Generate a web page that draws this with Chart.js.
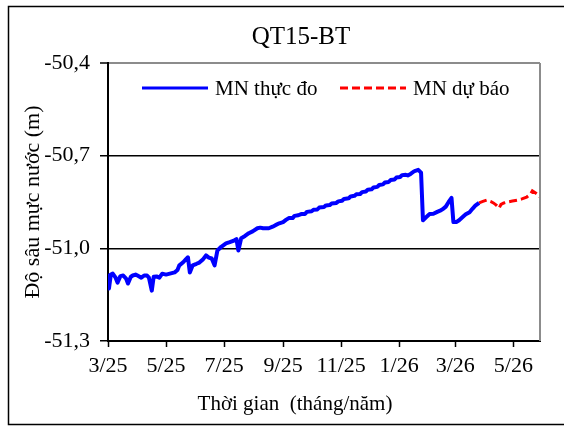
<!DOCTYPE html>
<html>
<head>
<meta charset="utf-8">
<script src="https://cdn.jsdelivr.net/npm/chart.js@4.4.1/dist/chart.umd.min.js"></script>
<style>
  html, body { margin: 0; padding: 0; background: #fff; }
  #wrap { width: 564px; height: 426px; }
</style>
</head>
<body>
<div id="wrap"><canvas id="c" width="564" height="426"></canvas></div>
<script>
/* QT15-BT — mực nước thực đo và dự báo */

// x = số ngày tính từ 01/03/2025
const TICK_DAYS   = [0, 61, 122, 184, 245, 306, 365, 426];
const TICK_LABELS = ['3/25', '5/25', '7/25', '9/25', '11/25', '1/26', '3/26', '5/26'];
const Y_TICKS     = [-51.3, -51.0, -50.7, -50.4];

// MN thực đo
const obsDays = [
  0, 1, 3, 5, 8, 10, 13, 16, 19, 21, 24, 26, 29, 31, 35, 38, 41, 43, 46, 48,
  51, 54, 57, 61, 65, 70, 73, 75, 79, 82, 84, 86, 89, 93, 96, 100, 103, 106, 109, 112,
  115, 119, 124, 128, 133, 135, 137, 140, 144, 148, 152, 157, 160, 163, 169, 173, 176, 180, 184, 187,
  190, 194, 196, 200, 203, 207, 209, 214, 216, 220, 222, 227, 229, 233, 235, 240, 242, 246, 248, 253,
  255, 259, 261, 265, 267, 271, 273, 277, 279, 283, 285, 289, 291, 295, 297, 301, 303, 307, 309, 313,
  315, 318, 321, 323, 326, 329,
  331, 334, 338, 342, 346, 349, 352, 355, 358, 361, 363, 366, 369, 373, 376, 380, 383, 386, 390
];
const obsLevels = [
  -51.088, -51.130, -51.085, -51.082, -51.095, -51.111, -51.090, -51.088, -51.098, -51.114,
  -51.092, -51.088, -51.085, -51.088, -51.095, -51.088, -51.088, -51.095, -51.137, -51.092,
  -51.091, -51.095, -51.082, -51.085, -51.082, -51.078, -51.070, -51.055, -51.045, -51.035,
  -51.029, -51.078, -51.055, -51.050, -51.046, -51.035, -51.023, -51.030, -51.033, -51.055,
  -51.007, -50.995, -50.984, -50.980, -50.974, -50.970, -51.007, -50.967, -50.960, -50.951,
  -50.945, -50.935, -50.933, -50.935, -50.935, -50.930, -50.925, -50.919, -50.915, -50.908,
  -50.902, -50.902, -50.895, -50.893, -50.889, -50.889, -50.882, -50.880, -50.875, -50.874,
  -50.868, -50.866, -50.861, -50.860, -50.855, -50.853, -50.848, -50.846, -50.840, -50.838,
  -50.832, -50.830, -50.825, -50.824, -50.818, -50.816, -50.810, -50.809, -50.803, -50.801,
  -50.795, -50.793, -50.787, -50.785, -50.779, -50.777, -50.771, -50.769, -50.763, -50.762,
  -50.764, -50.759, -50.752, -50.749, -50.746, -50.755,
  -50.909, -50.900, -50.889, -50.888, -50.882, -50.878, -50.873, -50.865, -50.850, -50.837,
  -50.915, -50.915, -50.909, -50.898, -50.890, -50.883, -50.872, -50.862, -50.853
];

// MN dự báo
const fcDays = [390, 394, 398, 402, 405, 408, 411, 413, 416, 420, 425, 430, 435, 440, 444, 446, 449, 452, 454];
const fcLevels = [
  -50.853, -50.848, -50.844, -50.848, -50.853, -50.860, -50.870, -50.858, -50.853, -50.850,
  -50.847, -50.844, -50.840, -50.834, -50.825, -50.814, -50.820, -50.827, -50.834
];

const FONT = "'Liberation Serif', 'Times New Roman', serif";
const TITLE = 'QT15-BT';
const X_TITLE = 'Thời gian  (tháng/năm)';
const toXY = (xs, ys) => xs.map((x, i) => ({ x, y: ys[i] }));
const fmtComma = v => v.toFixed(1).replace('.', ',');

// khung ngoài, tiêu đề, chú giải, viền phải vùng vẽ
const framePlugin = {
  id: 'frame',
  beforeDraw(chart) {
    const ctx = chart.ctx;
    ctx.save();
    ctx.fillStyle = '#fff';
    ctx.fillRect(0, 0, chart.width, chart.height);
    ctx.strokeStyle = '#000';
    ctx.lineWidth = 1.5;
    ctx.beginPath();
    ctx.moveTo(chart.width + 2, 6.5);
    ctx.lineTo(8.5, 6.5);
    ctx.lineTo(8.5, 424.5);
    ctx.lineTo(chart.width + 2, 424.5);
    ctx.stroke();
    ctx.restore();
  },
  afterDraw(chart) {
    const { ctx, chartArea: a } = chart;
    ctx.save();
    // right border of plot area
    ctx.strokeStyle = '#8c8c8c';
    ctx.lineWidth = 2;
    ctx.beginPath();
    ctx.moveTo(a.right, a.top);
    ctx.lineTo(a.right, a.bottom);
    ctx.stroke();

    ctx.fillStyle = '#000';
    ctx.textBaseline = 'middle';
    ctx.textAlign = 'center';
    ctx.font = `25px ${FONT}`;
    ctx.fillText(TITLE, 301, 37);
    ctx.font = `21px ${FONT}`;
    ctx.fillText(X_TITLE, 295, 404);

    // legend
    const items = [
      { ds: chart.data.datasets[0], x0: a.left + 34 },
      { ds: chart.data.datasets[1], x0: a.left + 232 },
    ];
    const ly = a.top + 25;
    items.forEach(it => {
      ctx.strokeStyle = it.ds.borderColor;
      ctx.lineWidth = 3;
      ctx.setLineDash(it.ds.borderDash || []);
      ctx.beginPath();
      ctx.moveTo(it.x0, ly);
      ctx.lineTo(it.x0 + 66, ly);
      ctx.stroke();
      ctx.setLineDash([]);
      ctx.textAlign = 'left';
      ctx.fillText(it.ds.label, it.x0 + 73, ly + 1);
    });
    ctx.restore();
  }
};

new Chart(document.getElementById('c'), {
  type: 'line',
  data: {
    datasets: [
      {
        label: 'MN thực đo',
        data: toXY(obsDays, obsLevels),
        borderColor: '#0000ff',
        backgroundColor: '#0000ff',
        borderWidth: 4,
        pointRadius: 0,
        tension: 0,
        borderJoinStyle: 'round',
      },
      {
        label: 'MN dự báo',
        data: toXY(fcDays, fcLevels),
        borderColor: '#ff0000',
        backgroundColor: '#ff0000',
        borderWidth: 3,
        borderDash: [8, 4],
        pointRadius: 0,
        tension: 0,
      }
    ]
  },
  options: {
    responsive: false,
    animation: false,
    events: [],
    layout: { padding: { left: 8, right: 24, top: 63, bottom: 0 } },
    plugins: {
      title: { display: false },
      legend: { display: false },
      tooltip: { enabled: false },
    },
    scales: {
      x: {
        type: 'linear',
        min: 0,
        max: 454,
        afterBuildTicks: s => { s.ticks = TICK_DAYS.map(v => ({ value: v })); },
        afterFit: s => { s.height = 85; },
        ticks: {
          color: '#000',
          font: { family: FONT, size: 22 },
          padding: 6,
          maxRotation: 0,
          callback: v => TICK_LABELS[TICK_DAYS.indexOf(v)],
        },
        grid: { drawOnChartArea: false, drawTicks: true, tickLength: 6, tickColor: '#000', tickWidth: 1.5 },
        border: { color: '#000', width: 2 },
      },
      y: {
        min: -51.3,
        max: -50.4,
        afterBuildTicks: s => { s.ticks = Y_TICKS.map(v => ({ value: v })); },
        afterFit: s => { s.width = 100; },
        ticks: {
          color: '#000',
          font: { family: FONT, size: 22 },
          padding: 10,
          callback: v => fmtComma(v),
        },
        grid: {
          color: c => (c.tick && c.tick.value === -50.4 ? '#8c8c8c' : '#000'),
          lineWidth: c => (c.tick && c.tick.value === -50.4 ? 2 : 1.5),
          tickColor: '#000',
          tickWidth: 1.5,
          tickLength: 8,
        },
        border: { color: '#000', width: 2 },
        title: {
          display: true,
          text: 'Độ sâu mực nước (m)',
          color: '#000',
          font: { family: FONT, size: 22 },
          padding: { top: 12, bottom: 0 },
        }
      }
    }
  },
  plugins: [framePlugin]
});
</script>
</body>
</html>
